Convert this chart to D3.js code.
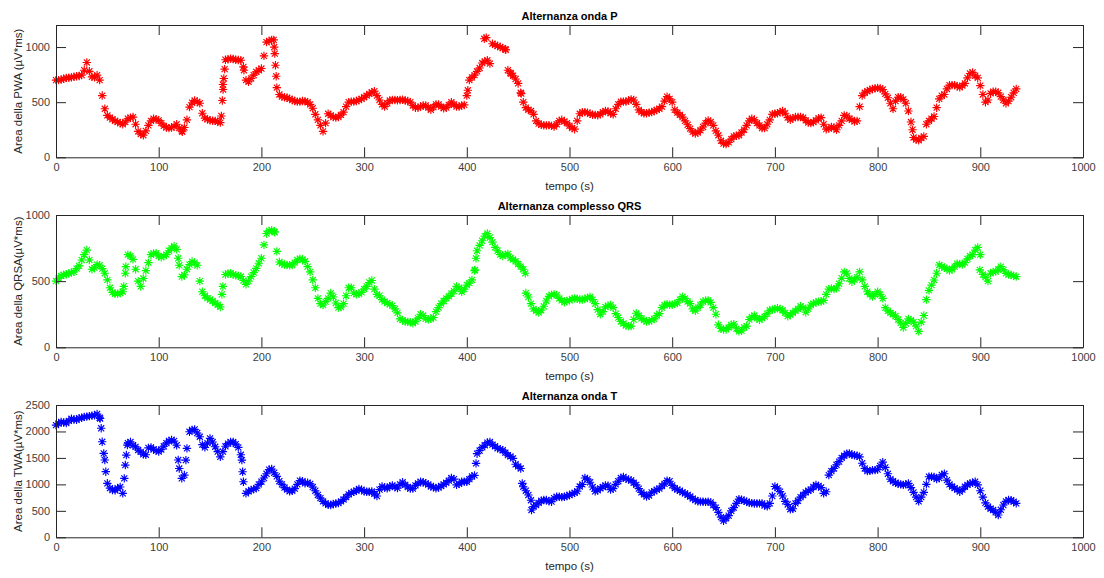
<!DOCTYPE html>
<meta charset='utf-8'>
<style>
    html, body {
        margin: 0;
        background: white;
    }

    .axis path, .axis line {
        stroke: #262626;
    }

    .axis text {
        fill: #404040;
        font-size: 11px;
        font-family: 'Liberation Sans', Arial, sans-serif;
    }

    .title {
        font: bold 11px 'Liberation Sans', Arial, sans-serif;
        fill: black;
    }

    .label {
        font: 11.5px 'Liberation Sans', Arial, sans-serif;
        fill: #262626;
    }
</style>
<title>Alternanza</title>
<body>

<script src='https://d3js.org/d3.v7.min.js'></script>
<script>

	// tempo (s): samples on the 5 s grid ...
	let tempo = [
		0, 5, 10, 15, 20, 25, 30, 35, 40, 45,
		50, 55, 60, 65, 70, 75, 80, 85, 90, 95,
		100, 105, 110, 115, 120, 125, 130, 135, 140, 145,
		150, 155, 160, 165, 170, 175, 180, 185, 190, 195,
		200, 205, 210, 215, 220, 225, 230, 235, 240, 245,
		250, 255, 260, 265, 270, 275, 280, 285, 290, 295,
		300, 305, 310, 315, 320, 325, 330, 335, 340, 345,
		350, 355, 360, 365, 370, 375, 380, 385, 390, 395,
		400, 405, 410, 415, 420, 425, 430, 435, 440, 445,
		450, 455, 460, 465, 470, 475, 480, 485, 490, 495,
		500, 505, 510, 515, 520, 525, 530, 535, 540, 545,
		550, 555, 560, 565, 570, 575, 580, 585, 590, 595,
		600, 605, 610, 615, 620, 625, 630, 635, 640, 645,
		650, 655, 660, 665, 670, 675, 680, 685, 690, 695,
		700, 705, 710, 715, 720, 725, 730, 735, 740, 745,
		750, 755, 760, 765, 770, 775, 780, 785, 790, 795,
		800, 805, 810, 815, 820, 825, 830, 835, 840, 845,
		850, 855, 860, 865, 870, 875, 880, 885, 890, 895,
		900, 905, 910, 915, 920, 925, 930, 935
	];
	// ... and halfway between them
	let tempoMid = [
		2.5, 7.5, 12.5, 17.5, 22.5, 27.5, 32.5, 37.5, 42.5, 47.5,
		52.5, 57.5, 62.5, 67.5, 72.5, 77.5, 82.5, 87.5, 92.5, 97.5,
		102.5, 107.5, 112.5, 117.5, 122.5, 127.5, 132.5, 137.5, 142.5, 147.5,
		152.5, 157.5, 162.5, 167.5, 172.5, 177.5, 182.5, 187.5, 192.5, 197.5,
		202.5, 207.5, 212.5, 217.5, 222.5, 227.5, 232.5, 237.5, 242.5, 247.5,
		252.5, 257.5, 262.5, 267.5, 272.5, 277.5, 282.5, 287.5, 292.5, 297.5,
		302.5, 307.5, 312.5, 317.5, 322.5, 327.5, 332.5, 337.5, 342.5, 347.5,
		352.5, 357.5, 362.5, 367.5, 372.5, 377.5, 382.5, 387.5, 392.5, 397.5,
		402.5, 407.5, 412.5, 417.5, 422.5, 427.5, 432.5, 437.5, 442.5, 447.5,
		452.5, 457.5, 462.5, 467.5, 472.5, 477.5, 482.5, 487.5, 492.5, 497.5,
		502.5, 507.5, 512.5, 517.5, 522.5, 527.5, 532.5, 537.5, 542.5, 547.5,
		552.5, 557.5, 562.5, 567.5, 572.5, 577.5, 582.5, 587.5, 592.5, 597.5,
		602.5, 607.5, 612.5, 617.5, 622.5, 627.5, 632.5, 637.5, 642.5, 647.5,
		652.5, 657.5, 662.5, 667.5, 672.5, 677.5, 682.5, 687.5, 692.5, 697.5,
		702.5, 707.5, 712.5, 717.5, 722.5, 727.5, 732.5, 737.5, 742.5, 747.5,
		752.5, 757.5, 762.5, 767.5, 772.5, 777.5, 782.5, 787.5, 792.5, 797.5,
		802.5, 807.5, 812.5, 817.5, 822.5, 827.5, 832.5, 837.5, 842.5, 847.5,
		852.5, 857.5, 862.5, 867.5, 872.5, 877.5, 882.5, 887.5, 892.5, 897.5,
		902.5, 907.5, 912.5, 917.5, 922.5, 927.5, 932.5
	];

	let areaPWA = [
		700, 705, 720, 725, 735, 745, 860, 730, 745, 560,
		380, 345, 320, 300, 350, 365, 235, 200, 290, 350,
		335, 285, 265, 280, 265, 270, 455, 515, 490, 355,
		335, 330, 315, 885, 895, 885, 880, 700, 715, 775,
		805, 1045, 1065, 632, 550, 540, 520, 505, 510, 500,
		445, 340, 235, 395, 365, 365, 410, 500, 505, 520,
		545, 575, 600, 520, 460, 515, 520, 520, 515, 500,
		450, 460, 470, 430, 480, 460, 450, 500, 460, 470,
		560, 725, 780, 855, 880, 1030, 1010, 990, 790, 740,
		670, 500, 430, 390, 305, 290, 292, 278, 330, 325,
		285, 255, 395, 410, 395, 385, 390, 420, 400, 440,
		505, 505, 525, 480, 410, 400, 410, 430, 460, 550,
		500, 405, 365, 295, 230, 225, 275, 335, 290, 200,
		125, 135, 190, 200, 250, 330, 340, 290, 265, 340,
		395, 410, 400, 340, 365, 365, 335, 310, 335, 360,
		255, 275, 250, 330, 375, 340, 330, 560, 600, 620,
		630, 615, 540, 440, 545, 525, 420, 180, 155, 190,
		330, 370, 530, 570, 655, 655, 635, 670, 760, 740,
		650, 500, 580, 595, 550, 490, 545, 620
	];
	let areaPWAMid = [
		700, 712, 722, 730, 738, 790, 780, 725, 700, 440,
		360, 330, 310, 320, 360, 300, 210, 240, 330, 345,
		310, 270, 270, 300, 240, 340, 495, 505, 400, 345,
		332, 322, 660, 890, 892, 882, 820, 685, 745, 790,
		920, 1055, 1000, 570, 545, 530, 510, 505, 508, 480,
		390, 290, 310, 380, 360, 385, 460, 505, 510, 530,
		560, 590, 560, 480, 490, 520, 518, 522, 510, 470,
		450, 470, 450, 455, 480, 445, 475, 480, 460, 475,
		700, 745, 810, 870, 850, 1020, 1000, 980, 765, 710,
		585, 450, 420, 330, 295, 290, 285, 300, 340, 310,
		265, 330, 410, 405, 385, 382, 410, 415, 390, 480,
		505, 515, 520, 430, 400, 405, 420, 440, 510, 530,
		430, 385, 330, 260, 215, 245, 310, 320, 240, 150,
		120, 165, 195, 225, 290, 350, 310, 265, 300, 390,
		400, 420, 360, 355, 365, 360, 315, 320, 355, 300,
		260, 270, 290, 380, 350, 325, 460, 585, 610, 625,
		625, 575, 490, 510, 545, 490, 320, 160, 175, 300,
		350, 450, 560, 620, 655, 645, 650, 720, 770, 720,
		570, 520, 595, 585, 520, 510, 585
	];
	// extra beats in the steep jumps
	let extraPWA_t = [123, 161, 162, 162.7, 163.4, 164.2, 183, 212, 213, 213.7, 214.4, 401, 417, 419, 438, 443, 453, 834];
	let extraPWA_v = [232, 375, 515, 615, 715, 800, 790, 1065, 940, 835, 735, 608, 1075, 1085, 975, 760, 578, 250];

	let areaQRSA = [
		500, 540, 552, 565, 595, 660, 735, 590, 625, 595,
		510, 415, 405, 420, 700, 665, 500, 520, 640, 710,
		690, 690, 730, 765, 620, 547, 625, 640, 500, 390,
		360, 335, 305, 550, 560, 545, 535, 476, 534, 597,
		673, 860, 885, 725, 632, 622, 622, 660, 665, 610,
		510, 370, 320, 370, 380, 300, 330, 450, 410, 405,
		440, 490, 440, 390, 345, 325, 290, 215, 195, 190,
		195, 250, 215, 215, 270, 330, 370, 405, 460, 420,
		471, 510, 730, 805, 860, 795, 730, 690, 705, 665,
		630, 590, 380, 290, 262, 310, 385, 400, 370, 340,
		355, 370, 360, 365, 380, 330, 250, 305, 320, 255,
		195, 165, 160, 257, 219, 194, 205, 240, 300, 325,
		322, 335, 383, 345, 290, 300, 345, 355, 300, 170,
		135, 150, 175, 120, 150, 210, 240, 207, 232, 280,
		290, 290, 260, 245, 275, 310, 265, 320, 340, 345,
		400, 445, 446, 522, 560, 496, 530, 510, 420, 383,
		421, 370, 275, 250, 210, 150, 215, 190, 120, 240,
		430, 509, 622, 600, 580, 610, 630, 640, 690, 735,
		700, 530, 560, 572, 610, 559, 547, 534
	];
	let areaQRSAMid = [
		520, 548, 558, 570, 615, 700, 660, 600, 620, 560,
		450, 405, 410, 560, 690, 590, 460, 580, 700, 712,
		680, 700, 750, 740, 534, 590, 648, 620, 420, 372,
		350, 322, 460, 558, 550, 540, 505, 500, 565, 635,
		774, 880, 875, 645, 625, 620, 640, 670, 650, 570,
		450, 330, 345, 410, 335, 305, 390, 450, 400, 415,
		460, 505, 400, 360, 335, 315, 260, 205, 192, 182,
		220, 240, 210, 225, 300, 350, 385, 425, 450, 440,
		485, 580, 770, 840, 830, 755, 700, 700, 675, 650,
		610, 410, 330, 275, 280, 350, 398, 395, 355, 350,
		365, 368, 360, 375, 360, 285, 270, 315, 300, 225,
		180, 160, 210, 240, 205, 198, 215, 255, 320, 322,
		328, 360, 370, 330, 275, 320, 355, 340, 250, 140,
		135, 170, 140, 125, 160, 230, 220, 220, 255, 285,
		295, 280, 235, 260, 290, 300, 290, 330, 345, 355,
		440, 440, 480, 570, 520, 510, 570, 460, 400, 400,
		400, 300, 260, 235, 185, 180, 205, 160, 190, 360,
		470, 560, 612, 595, 590, 632, 625, 668, 700, 755,
		550, 500, 570, 590, 585, 550, 540
	];
	let extraQRSA_t = [66, 68, 119, 161.5, 213, 408, 409, 457, 899.5];
	let extraQRSA_v = [460, 610, 673, 400, 870, 585, 673, 560, 585];

	let areaTWA = [
		2120, 2180, 2160, 2240, 2220, 2260, 2280, 2300, 2330, 1805,
		1020, 893, 930, 830, 1780, 1740, 1650, 1570, 1690, 1660,
		1620, 1720, 1820, 1820, 1300, 1176, 1994, 2040, 1900, 1700,
		1868, 1711, 1520, 1720, 1800, 1760, 1560, 830, 893, 930,
		1050, 1200, 1290, 1150, 1000, 900, 880, 1000, 1060, 1030,
		950, 800, 680, 615, 630, 645, 715, 810, 860, 915,
		870, 860, 820, 900, 940, 960, 950, 1000, 990, 920,
		980, 1050, 1020, 960, 925, 970, 1030, 1120, 990, 1050,
		1050, 1150, 1580, 1700, 1790, 1750, 1680, 1648, 1554, 1491,
		1340, 956, 800, 580, 650, 704, 680, 740, 767, 767,
		799, 840, 960, 1120, 1040, 870, 925, 980, 900, 1000,
		1120, 1110, 1075, 990, 850, 770, 850, 900, 970, 1070,
		980, 900, 850, 800, 730, 680, 673, 673, 610, 470,
		310, 410, 560, 720, 690, 650, 640, 642, 600, 640,
		960, 862, 680, 530, 640, 760, 850, 900, 988, 940,
		860, 1250, 1370, 1500, 1580, 1560, 1540, 1400, 1250, 1270,
		1280, 1420, 1200, 1060, 1010, 990, 1019, 850, 680, 850,
		1145, 1140, 1120, 1200, 1000, 930, 862, 956, 1019, 1050,
		880, 650, 540, 470, 520, 680, 700, 642
	];
	let areaTWAMid = [
		2150, 2170, 2200, 2225, 2250, 2275, 2290, 2305, 2260, 1460,
		930, 890, 950, 1365, 1800, 1710, 1615, 1560, 1700, 1640,
		1660, 1780, 1840, 1740, 1113, 1680, 2030, 1970, 1750, 1780,
		1800, 1620, 1620, 1770, 1800, 1700, 1050, 870, 910, 1000,
		1120, 1280, 1220, 1060, 940, 870, 920, 1070, 1020, 1010,
		880, 740, 640, 610, 640, 680, 760, 840, 880, 900,
		860, 865, 780, 960, 925, 980, 930, 1040, 950, 920,
		1020, 1040, 1000, 950, 940, 1000, 1070, 1100, 1010, 1050,
		1100, 1170, 1640, 1740, 1800, 1720, 1665, 1600, 1530, 1380,
		1300, 880, 700, 610, 690, 704, 673, 767, 760, 780,
		820, 870, 1000, 1100, 950, 890, 950, 975, 920, 1060,
		1140, 1090, 1030, 920, 810, 790, 870, 920, 1010, 1060,
		930, 880, 830, 770, 704, 675, 670, 660, 560, 380,
		360, 500, 640, 710, 673, 645, 640, 640, 585, 780,
		930, 780, 620, 540, 690, 800, 880, 950, 970, 830,
		1176, 1300, 1430, 1540, 1585, 1550, 1520, 1300, 1255, 1270,
		1350, 1320, 1100, 1030, 1000, 1000, 940, 760, 760, 1000,
		1145, 1100, 1180, 1080, 960, 900, 900, 990, 1030, 990,
		760, 579, 516, 421, 610, 704, 673
	];
	let extraTWA_t = [43, 44, 46.5, 48.5, 66.5, 68.5, 69.5, 119, 126.5, 181, 181.7, 409, 454, 463];
	let extraTWA_v = [2245, 2060, 1585, 1240, 1113, 1554, 1742, 1460, 1459, 1459, 1239, 1396, 1019, 516];

	let xTicks = [0, 100, 200, 300, 400, 500, 600, 700, 800, 900, 1000];

	let panels = [
		{title: 'Alternanza onda P', ylabel: 'Area della PWA (\u00b5V*ms)', values: areaPWA, mid: areaPWAMid,
			extraT: extraPWA_t, extraV: extraPWA_v, ymax: 1200, yTicks: [0, 500, 1000], color: '#ff0000', top: 25},
		{title: 'Alternanza complesso QRS', ylabel: 'Area della QRSA(\u00b5V*ms)', values: areaQRSA, mid: areaQRSAMid,
			extraT: extraQRSA_t, extraV: extraQRSA_v, ymax: 1000, yTicks: [0, 500, 1000], color: '#00ff00', top: 215},
		{title: 'Alternanza onda T', ylabel: 'Area della TWA(\u00b5V*ms)', values: areaTWA, mid: areaTWAMid,
			extraT: extraTWA_t, extraV: extraTWA_v, ymax: 2500, yTicks: [0, 500, 1000, 1500, 2000, 2500], color: '#0000ff', top: 405}
	];

	let left = 56, right = 1083, height = 132.3, tick = 10;

	let svg = d3.select('body').append('svg')
		.attr('width', 1104)
		.attr('height', 578);

	let x = d3.scaleLinear()
		.domain([0, 1000])
		.range([left, right]);

	// asterisk marker: plus + cross
	let r = 4.2, d = r * 0.72;
	let star = 'M' + (-r) + ',0L' + r + ',0M0,' + (-r) + 'L0,' + r +
		'M' + (-d) + ',' + (-d) + 'L' + d + ',' + d + 'M' + (-d) + ',' + d + 'L' + d + ',' + (-d);

	function pairs(ts, vs) {
		return ts.map(function (t, i) {
			return {t: t, v: vs[i]};
		});
	}

	panels.forEach(function (p) {
		let y = d3.scaleLinear()
			.domain([0, p.ymax])
			.range([p.top + height, p.top]);

		let pts = pairs(tempo, p.values)
			.concat(pairs(tempoMid, p.mid))
			.concat(pairs(p.extraT, p.extraV));

		let g = svg.append('g');

		g.selectAll('.pt')
			.data(pts)
			.enter().append('path')
			.attr('class', 'pt')
			.attr('d', star)
			.attr('transform', function (o) {
				return 'translate(' + x(o.t) + ',' + y(o.v) + ')';
			})
			.attr('fill', 'none')
			.attr('stroke', p.color)
			.attr('stroke-width', 1.15);

		g.append('g')
			.attr('class', 'axis')
			.attr('transform', 'translate(0,' + (p.top + height) + ')')
			.call(d3.axisBottom(x).tickValues(xTicks).tickFormat(d3.format('d'))
				.tickSizeInner(-tick).tickSizeOuter(0).tickPadding(6));

		g.append('g')
			.attr('class', 'axis')
			.attr('transform', 'translate(0,' + p.top + ')')
			.call(d3.axisTop(x).tickValues(xTicks).tickFormat('')
				.tickSizeInner(-tick).tickSizeOuter(0));

		g.append('g')
			.attr('class', 'axis')
			.attr('transform', 'translate(' + left + ',0)')
			.call(d3.axisLeft(y).tickValues(p.yTicks).tickFormat(d3.format('d'))
				.tickSizeInner(-tick).tickSizeOuter(0).tickPadding(6));

		g.append('g')
			.attr('class', 'axis')
			.attr('transform', 'translate(' + right + ',0)')
			.call(d3.axisRight(y).tickValues(p.yTicks).tickFormat('')
				.tickSizeInner(-tick).tickSizeOuter(0));

		g.append('text')
			.attr('class', 'title')
			.attr('x', (left + right) / 2)
			.attr('y', p.top - 5)
			.attr('text-anchor', 'middle')
			.text(p.title);

		g.append('text')
			.attr('class', 'label')
			.attr('x', (left + right) / 2)
			.attr('y', p.top + height + 33)
			.attr('text-anchor', 'middle')
			.text('tempo (s)');

		g.append('text')
			.attr('class', 'label')
			.attr('transform', 'translate(22,' + (p.top + height / 2) + ') rotate(-90)')
			.attr('text-anchor', 'middle')
			.text(p.ylabel);
	});

</script>
</body>
